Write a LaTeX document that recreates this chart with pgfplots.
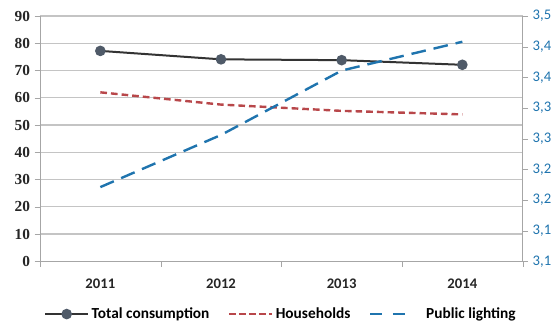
\documentclass[border=0pt]{standalone}
\usepackage{pgfplots}
\pgfplotsset{compat=1.18}
\usepackage{fontspec}
\setmainfont{Carlito}
\newfontfamily\serifnum{Liberation Serif}
\definecolor{totc}{HTML}{333333}
\definecolor{totm}{HTML}{4F5A68}
\definecolor{hh}{HTML}{B8474A}
\definecolor{pl}{HTML}{1F74AE}
\definecolor{gridc}{HTML}{C4C4C4}
\definecolor{axc}{HTML}{A6A6A6}
\begin{document}
\begin{tikzpicture}
\path[use as bounding box] (-30pt,-46.25pt) rectangle (385.5pt,196pt);
\begin{axis}[
  scale only axis, width=362pt, height=184pt,
  xmin=-0.5, xmax=3.5, ymin=0, ymax=90,
  axis y line*=left, axis x line*=bottom,
  axis line style={axc},
  xtick={0,1,2,3}, xticklabels={2011,2012,2013,2014},
  minor xtick={-0.5,0.5,1.5,2.5,3.5},
  x tick style={draw=none}, minor x tick style={draw=axc},
  minor tick length=4pt,
  major tick length=4pt,
  tick align=outside,
  ytick={0,10,...,90},
  y tick style={axc},
  ymajorgrids, grid style={gridc, line width=0.9pt},
  /pgf/number format/assume math mode=true,
  yticklabel style={font=\serifnum\bfseries\fontsize{11.5}{13}\selectfont, color=black!85},
  xticklabel style={font=\bfseries\fontsize{11}{13}\selectfont, color=black!85, yshift=-6pt},
  legend style={at={(0.5,-0.215)}, anchor=center, draw=none, legend columns=3,
    font=\bfseries\fontsize{11.5}{13}\selectfont,
    /tikz/every even column/.append style={column sep=12pt}},
  legend image code/.code={\draw[#1,mark repeat=2,mark phase=2] plot coordinates {(0pt,0pt) (16pt,0pt) (32pt,0pt)};},
]
\addplot[totc, line width=1.5pt, mark=*, mark size=3.2pt, mark options={fill=totm, draw=totm, solid}]
  coordinates {(0,77.2) (1,74.1) (2,73.8) (3,72.1)};
\addlegendentry{Total consumption}
\addlegendimage{legend image code/.code={\draw[hh, line width=1.8pt, dash pattern=on 5pt off 2.5pt] (0pt,0pt) -- (32pt,0pt);}}
\addlegendentry{Households}
\addlegendimage{legend image code/.code={\draw[pl, line width=1.8pt] (0pt,0pt) -- (9pt,0pt) (17pt,0pt) -- (26pt,0pt); \path[draw=none,fill=none] (0pt,0pt) -- (40pt,0pt);}}
\addlegendentry{Public lighting}
\addplot[hh, line width=1.8pt, dash pattern=on 5pt off 3pt, forget plot]
  coordinates {(0,62.0) (1,57.5) (2,55.2) (3,53.9)};
\end{axis}
\begin{axis}[
  scale only axis, width=362pt, height=184pt,
  xmin=-0.5, xmax=3.5, ymin=3.1, ymax=3.5,
  axis y line*=right, axis x line=none,
  axis line style={axc},
  ytick={3.1,3.15,3.2,3.25,3.3,3.35,3.4,3.45,3.5},
  yticklabels={{3,1},{3,1},{3,2},{3,2},{3,3},{3,3},{3,4},{3,4},{3,5}},
  y tick style={axc}, tick align=outside, major tick length=4pt,
  yticklabel style={font=\fontsize{11}{13}\selectfont, color=pl},
]
\addplot[pl, line width=1.8pt, dash pattern=on 11pt off 6pt]
  coordinates {(0,3.221) (1,3.306) (2,3.411) (3,3.458)};
\end{axis}
\end{tikzpicture}
\end{document}
